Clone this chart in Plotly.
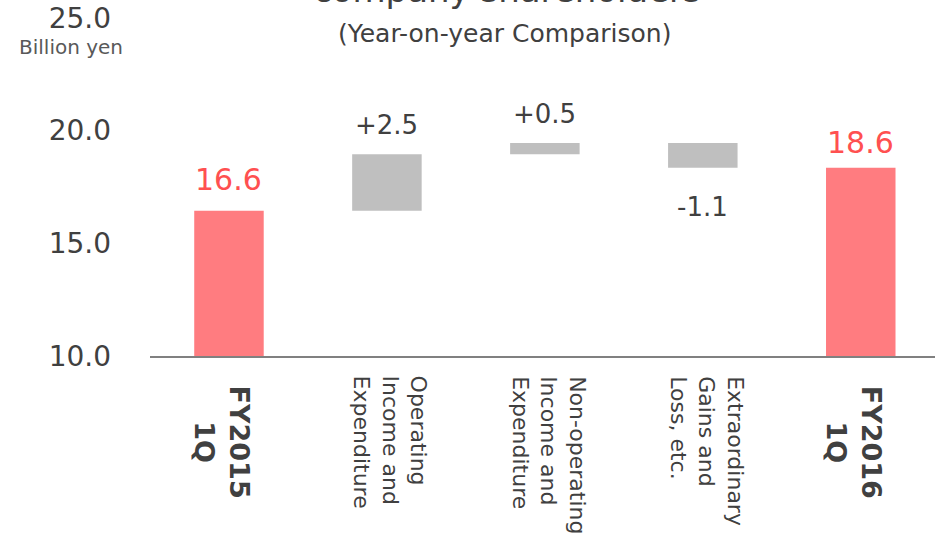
import plotly.graph_objects as go

# ---- data ----
categories = ["FY2015 1Q", "Operating Income and Expenditure",
              "Non-operating Income and Expenditure",
              "Extraordinary Gains and Loss, etc.", "FY2016 1Q"]
category_labels = ["FY2015<br>1Q", "Operating<br>Income and<br>Expenditure",
                   "Non-operating<br>Income and<br>Expenditure",
                   "Extraordinary<br>Gains and<br>Loss, etc.", "FY2016<br>1Q"]
start_value = 16.45
changes = [2.5, 0.5, -1.1]
value_labels = ["16.6", "+2.5", "+0.5", "-1.1", "18.6"]
y_ticks = [10, 15, 20, 25]

# ---- derived ----
bases = []
run = start_value
for c in changes:
    bases.append(run)
    run += c
end_value = run

RED = "#FF7C80"
RED_TEXT = "#FF5050"
GREY = "#BFBFBF"
TXT = "#404040"
FONT = "DejaVu Sans"

fig = go.Figure()
fig.add_trace(go.Bar(x=[categories[0], categories[-1]], y=[start_value, end_value],
                     marker=dict(color=RED, line=dict(width=0)), width=0.44,
                     hoverinfo="skip"))
fig.add_trace(go.Bar(x=categories[1:-1], y=changes, base=bases,
                     marker=dict(color=GREY, line=dict(width=0)), width=0.44,
                     hoverinfo="skip"))

annotations = []
# value labels
ends = [start_value] + [b + c for b, c in zip(bases, changes)] + [end_value]
signs = [1] + [1 if c >= 0 else -1 for c in changes] + [1]
for i, (cat, lab) in enumerate(zip(categories, value_labels)):
    total = i in (0, len(categories) - 1)
    pos = signs[i] > 0
    annotations.append(dict(
        x=cat, y=ends[i], xref="x", yref="y", text=lab, showarrow=False,
        yanchor="bottom" if pos else "top",
        yshift=(12 if i == 0 or not total else 6) if pos else -22,
        font=dict(family=FONT, size=30 if total else 26,
                  color=RED_TEXT if total else TXT)))

# category labels (rotated)
for i, (cat, lab) in enumerate(zip(categories, category_labels)):
    total = i in (0, len(categories) - 1)
    if total:
        annotations.append(dict(
            x=cat, y=0, xref="x", yref="paper",
            text="<b>" + lab.replace("<br>", "</b><br><b>") + "</b>",
            showarrow=False, textangle=90, align="center",
            xanchor="center", yanchor="top", yshift=-28, xshift=-6,
            font=dict(family=FONT, size=27, color=TXT)))
    else:
        annotations.append(dict(
            x=cat, y=0, xref="x", yref="paper", text=lab,
            showarrow=False, textangle=90, align="left",
            xanchor="center", yanchor="top", yshift=-18, xshift=4,
            font=dict(family=FONT, size=22, color=TXT)))

# titles
annotations.append(dict(x=0.455, y=1.018, xref="paper", yref="paper",
                        text="company shareholders", showarrow=False,
                        xanchor="center", yanchor="bottom",
                        font=dict(family=FONT, size=34, color=TXT)))
annotations.append(dict(x=0.451, y=0.955, xref="paper", yref="paper",
                        text="(Year-on-year Comparison)", showarrow=False,
                        xanchor="center", yanchor="middle",
                        font=dict(family=FONT, size=25, color=TXT)))
annotations.append(dict(x=-0.1006, y=0.913, xref="paper", yref="paper",
                        text="Billion yen", showarrow=False,
                        xanchor="center", yanchor="middle",
                        font=dict(family=FONT, size=20, color="#595959")))

fig.update_layout(
    width=935, height=539,
    margin=dict(l=150, r=0, t=18, b=183, pad=0),
    paper_bgcolor="white", plot_bgcolor="white",
    barmode="overlay", showlegend=False,
    font=dict(family=FONT, color=TXT),
    annotations=annotations,
    xaxis=dict(type="category", categoryorder="array", categoryarray=categories,
               range=[-0.5, 4.47], showticklabels=False,
               showline=True, linecolor="#808080", linewidth=1.5,
               showgrid=False, ticks="", zeroline=False, fixedrange=True),
    yaxis=dict(range=[y_ticks[0], y_ticks[-1]], tickvals=y_ticks, tickformat=".1f",
               showgrid=False, zeroline=False, showline=False, ticks="",
               ticklabelstandoff=38,
               tickfont=dict(family=FONT, size=28, color=TXT), fixedrange=True),
)

fig.write_html("out.html", config={"displayModeBar": False},
               post_script="document.body.style.margin='0';")
